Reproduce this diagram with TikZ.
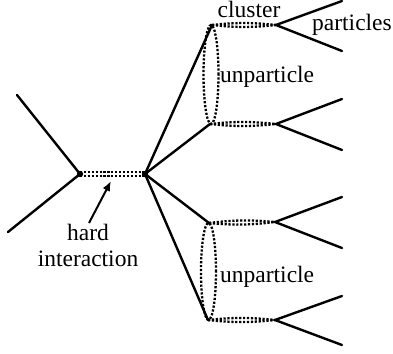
\documentclass[tikz,border=0pt]{standalone}
\usepackage{fontspec}
\setmainfont{Liberation Serif}
\usetikzlibrary{arrows.meta,calc}
\begin{document}
\begin{tikzpicture}[x=1pt,y=-1pt,
  solidline/.style={line width=2.4pt,line cap=round},
  dotline/.style={line width=2.3pt,dash pattern=on 2.2pt off 1.7pt},
  lbl/.style={font=\fontsize{23.5}{26}\selectfont,inner sep=0pt,anchor=base}]
\useasboundingbox (0,0) rectangle (393,353);
% vertices
\coordinate (A) at (80,174);
\coordinate (B) at (145,174);
\coordinate (Lin1) at (17,95);
\coordinate (Lin2) at (8,232);
\coordinate (C1) at (212,25);
\coordinate (C2) at (210,124);
\coordinate (C3) at (209,223);
\coordinate (C4) at (208,320);
\coordinate (D1) at (276,25);
\coordinate (D2) at (276,124);
\coordinate (D3) at (275,222);
\coordinate (D4) at (275,320);
\coordinate (E1a) at (342,1);
\coordinate (E1b) at (342,51);
\coordinate (E2a) at (342,99);
\coordinate (E2b) at (342,150);
\coordinate (E3a) at (342,197);
\coordinate (E3b) at (342,248);
\coordinate (E4a) at (342,296);
\coordinate (E4b) at (342,345);
% incoming
\draw[solidline] (Lin1) -- (A) -- (Lin2);
% hard interaction
\draw[dotline] ([yshift=-2pt]A) -- ([yshift=-2pt]B);
\draw[dotline] ([yshift=2pt]A) -- ([yshift=2pt]B);
\fill (A) circle (3.2pt);
\fill (B) circle (3.2pt);
% outgoing to clusters
\draw[solidline] (B) -- (C1);
\draw[solidline] (B) -- (C2);
\draw[solidline] (B) -- (C3);
\draw[solidline] (B) -- (C4);
% cluster lenses
\foreach \c/\d in {C1/D1,C2/D2,C3/D3,C4/D4}{
  \draw[dotline] (\c) to[bend left=6] (\d);
  \draw[dotline] (\c) to[bend right=6] (\d);
}
% unparticle ellipses
\draw[dotline] ($(C1)!0.5!(C2)$) ellipse [x radius=7.5pt, y radius=49.5pt];
\draw[dotline] ($(C3)!0.5!(C4)$) ellipse [x radius=7.5pt, y radius=48.5pt];
% particles
\draw[solidline] (E1a) -- (D1) -- (E1b);
\draw[solidline] (E2a) -- (D2) -- (E2b);
\draw[solidline] (E3a) -- (D3) -- (E3b);
\draw[solidline] (E4a) -- (D4) -- (E4b);
% labels
\node[lbl] (cl) at (249,18) {cluster};
\node[lbl] (pa) at (352,31) {particles};
\node[lbl,anchor=base west] (u1) at (220,82) {unparticle};
\node[lbl,anchor=base west] (u2) at (220,282) {unparticle};
\node[lbl] (hd) at (88,240) {hard};
\node[lbl] (ia) at (88,266) {interaction};
\coordinate (arrtip) at (111,181);
\draw[line width=2pt,-{Latex[length=10pt,width=8pt]}] (89,223) -- (arrtip);
\end{tikzpicture}
\end{document}
